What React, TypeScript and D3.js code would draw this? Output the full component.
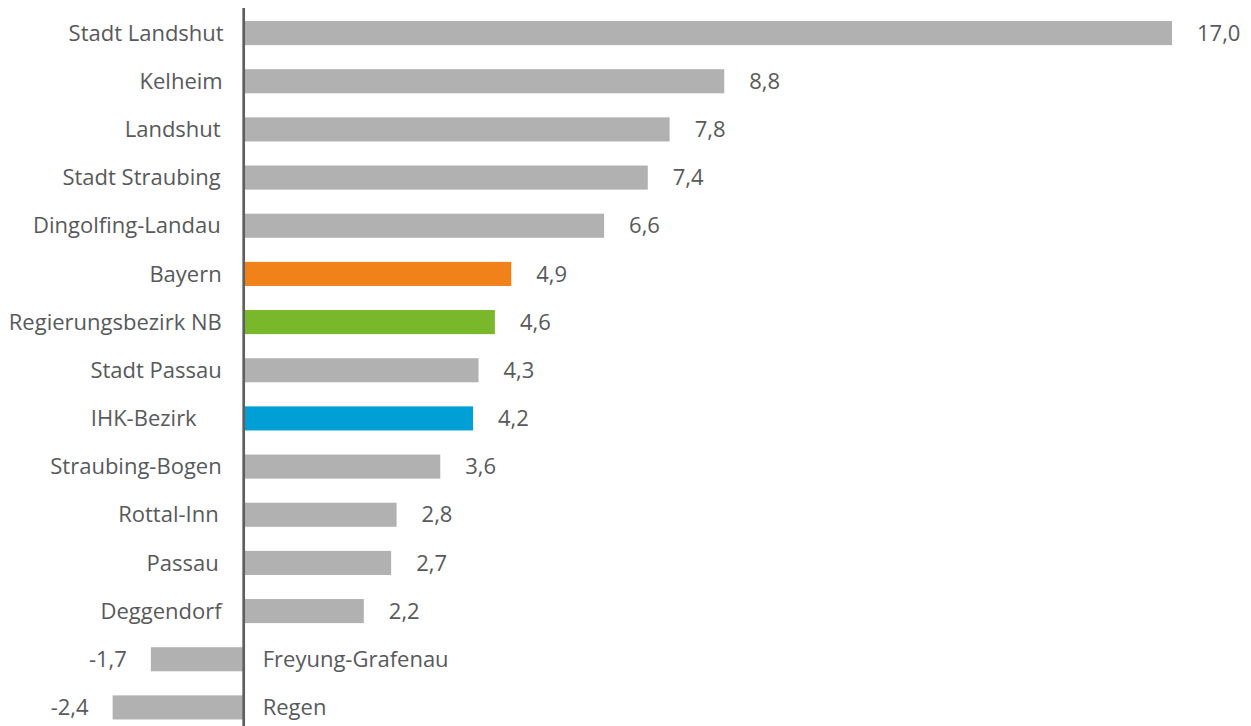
import React from "react";
import * as d3 from "d3";

const categories = [
  "Stadt Landshut",
  "Kelheim",
  "Landshut",
  "Stadt Straubing",
  "Dingolfing-Landau",
  "Bayern",
  "Regierungsbezirk NB",
  "Stadt Passau",
  "IHK-Bezirk",
  "Straubing-Bogen",
  "Rottal-Inn",
  "Passau",
  "Deggendorf",
  "Freyung-Grafenau",
  "Regen",
];
const values = [17.0, 8.8, 7.8, 7.4, 6.6, 4.9, 4.6, 4.3, 4.2, 3.6, 2.8, 2.7, 2.2, -1.7, -2.4];
const highlight: Record<string, string> = {
  Bayern: "#F08219",
  "Regierungsbezirk NB": "#78B82A",
  "IHK-Bezirk": "#009FD5",
};
const labelShift: Record<string, number> = {
  "IHK-Bezirk": 27,
  "Rottal-Inn": 5,
  Passau: 5,
  Landshut: 3,
  Kelheim: 1,
  "Stadt Straubing": 3,
  "Dingolfing-Landau": 3,
  "Straubing-Bogen": 2,
  Deggendorf: 2,
  Bayern: 2,
  "Regierungsbezirk NB": 2,
  "Stadt Passau": 2,
};

const W = 1251;
const H = 726;
const GRAY = "#B1B1B2";
const TEXT = "#58595B";
const FONT = "'Open Sans', sans-serif";

export default function App() {
  const x = d3.scaleLinear().domain([0, 17]).range([243.7, 1172]);
  const y = d3
    .scaleBand<string>()
    .domain(categories)
    .range([9, 731.5])
    .paddingInner(0.5)
    .paddingOuter(0.25);
  const bw = y.bandwidth();
  const fmt = (v: number) => d3.format(".1f")(v).replace(".", ",").replace("−", "-");

  return (
    <svg
      width={W}
      height={H}
      style={{ position: "absolute", left: 0, top: 0, background: "#fff" }}
    >
      {categories.map((c, i) => {
        const v = values[i];
        const y0 = y(c)!;
        const cy = y0 + bw / 2;
        const neg = v < 0;
        const x0 = Math.min(x(0), x(v));
        const w = Math.abs(x(v) - x(0));
        return (
          <g key={c}>
            <rect x={x0} y={y0} width={w} height={bw} fill={highlight[c] || GRAY} />
            <text
              x={neg ? x(0) + 19 : x(0) - 20 - (labelShift[c] || 0)}
              y={cy}
              dy="0.35em"
              textAnchor={neg ? "start" : "end"}
              fontFamily={FONT}
              fontSize={22}
              fill={TEXT}
            >
              {c}
            </text>
            <text
              x={neg ? x(v) - 24 : x(v) + 25}
              y={cy}
              dy="0.35em"
              textAnchor={neg ? "end" : "start"}
              fontFamily={FONT}
              fontSize={22}
              fill={TEXT}
            >
              {fmt(v)}
            </text>
          </g>
        );
      })}
      <line x1={x(0)} x2={x(0)} y1={8} y2={H} stroke="#5F5F60" strokeWidth={2.7} />
    </svg>
  );
}
